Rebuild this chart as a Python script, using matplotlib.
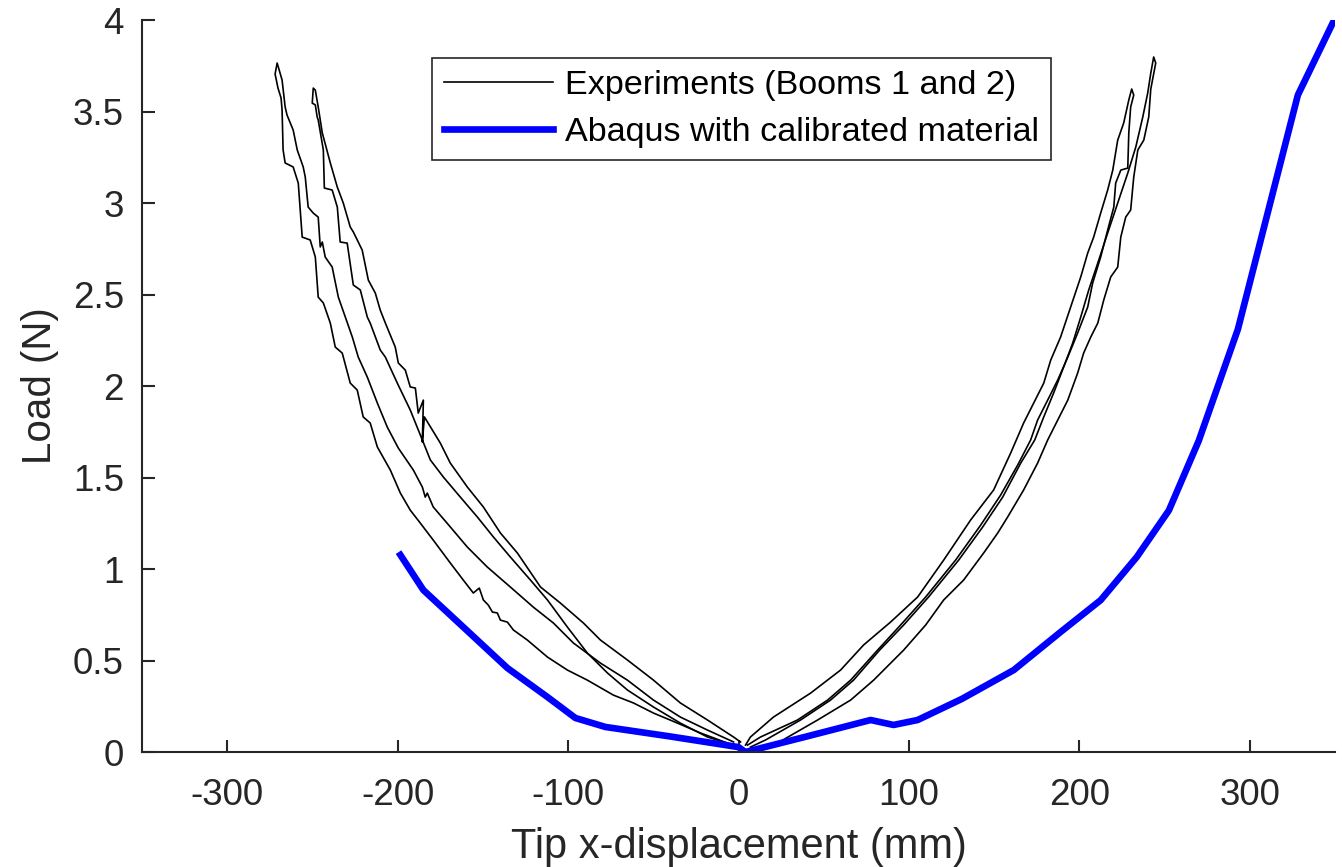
import matplotlib
matplotlib.use('Agg')
import matplotlib.pyplot as plt
from matplotlib.ticker import FuncFormatter

# experiments, left side, outer loop (boom 1)
left_a_x = [-1.2, -6.5, -22.3, -35.8, -49.9, -61.6, -73.4, -88.7, -100.4, -112.1, -123.9, -132.1,
            -135.6, -139.7, -141.5, -144.4, -146.8, -149.7, -152.1, -155.6, -161.5, -169.1, -179.1,
            -186.7, -192.6, -198.4, -204.3, -211.9, -216.1, -220.2, -223.7, -227.8, -232.5, -236.6,
            -239.5, -243.6, -246.6, -248.3, -251.3, -256.0, -258.3, -261.3, -266.0, -267.2, -267.8,
            -268.4, -270.2, -271.9, -270.7,
            -269.5, -267.8, -266.0, -264.9, -261.3, -258.9, -255.4, -254.2, -252.5, -249.5, -246.6,
            -245.4, -244.2, -242.5, -238.4, -234.8, -230.7, -226.6, -223.1, -217.8, -211.9, -206.1,
            -199.6, -190.8, -185.5, -183.8, -182.6, -179.1, -169.1, -159.1, -147.4, -133.9, -120.4,
            -108.6, -96.9, -81.0, -65.2, -49.9, -34.1, -18.2, -2.9]
left_a_y = [0.033, 0.049, 0.104, 0.158, 0.213, 0.268, 0.311, 0.393, 0.448, 0.519, 0.612, 0.667,
            0.710, 0.721, 0.760, 0.765, 0.803, 0.831, 0.896, 0.869, 0.940, 1.033, 1.158,
            1.251, 1.322, 1.415, 1.541, 1.667, 1.798, 1.831, 1.978, 2.016, 2.180, 2.213,
            2.344, 2.454, 2.486, 2.705, 2.798, 2.814, 3.109, 3.197, 3.219, 3.290, 3.508,
            3.574, 3.628, 3.705, 3.765,
            3.727, 3.672, 3.525, 3.481, 3.399, 3.290, 3.197, 3.142, 2.978, 2.945, 2.923,
            2.760, 2.787, 2.705, 2.650, 2.486, 2.377, 2.268, 2.158, 2.049, 1.907, 1.776,
            1.661, 1.541, 1.448, 1.393, 1.415, 1.339, 1.230, 1.120, 1.011, 0.902, 0.792,
            0.705, 0.596, 0.486, 0.393, 0.284, 0.191, 0.120, 0.055]

# experiments, left side, inner loop (boom 2)
left_b_x = [-0.6, -2.9, -18.2, -34.1, -49.9, -65.2, -76.9, -88.7, -100.4, -112.1, -122.1, -133.9,
            -143.8, -153.2, -163.2, -173.2, -180.8, -185.5, -192.6, -200.2, -207.2, -210.2, -216.1,
            -217.8, -221.9, -226.0, -229.6, -233.7, -235.4, -238.4, -243.0, -243.6, -246.6, -247.2,
            -248.3, -250.1, -249.5,
            -248.3, -246.6, -244.2, -239.5, -235.4, -231.9, -227.8, -226.0, -220.8, -217.2, -213.1,
            -210.2, -207.2, -201.4, -199.6, -195.5, -192.6, -189.6, -187.9, -184.9, -185.5, -184.3,
            -175.0, -169.1, -159.1, -149.7, -139.7, -129.7, -116.2, -104.5, -91.0, -81.0, -65.2,
            -49.9, -34.1, -18.2, -2.9, 1.2]
left_b_y = [0.022, 0.038, 0.082, 0.158, 0.246, 0.339, 0.432, 0.541, 0.683, 0.831, 0.940, 1.066,
            1.175, 1.284, 1.393, 1.503, 1.596, 1.705, 1.869, 2.016, 2.158, 2.197, 2.344,
            2.377, 2.525, 2.552, 2.781, 2.787, 2.978, 3.071, 3.082, 3.290, 3.454, 3.470,
            3.536, 3.546, 3.628,
            3.617, 3.525, 3.383, 3.219, 3.087, 3.000, 2.869, 2.842, 2.743, 2.579, 2.508,
            2.415, 2.344, 2.213, 2.126, 2.087, 1.995, 1.989, 1.852, 1.923, 1.694, 1.831,
            1.689, 1.579, 1.448, 1.339, 1.197, 1.087, 0.902, 0.814, 0.705, 0.612, 0.503,
            0.393, 0.268, 0.175, 0.082, 0.055]

# experiments, right side, inner loop
right_a_x = [4.1, 7.0, 20.5, 42.3, 59.9, 73.4, 89.2, 105.1, 120.4, 136.2, 149.7, 159.7, 167.3,
             173.2, 179.1, 183.2, 189.0, 194.9, 200.8, 204.9, 208.4, 212.5, 216.6, 219.6, 222.5,
             226.0, 229.0, 230.7,
             231.9, 230.1, 229.0, 228.4, 224.3, 221.3, 220.2, 216.6, 212.5, 207.8, 204.9, 199.0,
             193.2, 187.3, 181.4, 175.5, 171.4, 163.8, 153.8, 142.1, 127.4, 109.8, 95.1, 81.6,
             65.8, 52.3, 34.6, 12.9, 5.3]
right_a_y = [0.038, 0.082, 0.191, 0.322, 0.448, 0.585, 0.710, 0.847, 1.049, 1.268, 1.432, 1.634, 1.798,
             1.907, 2.016, 2.142, 2.268, 2.432, 2.596, 2.727, 2.814, 2.945, 3.071, 3.180, 3.344,
             3.437, 3.563, 3.623,
             3.590, 3.525, 3.383, 3.191, 3.180, 3.109, 2.978, 2.852, 2.705, 2.563, 2.432, 2.290,
             2.158, 2.033, 1.923, 1.814, 1.705, 1.568, 1.404, 1.240, 1.049, 0.847, 0.694, 0.557,
             0.393, 0.284, 0.175, 0.082, 0.038]

# experiments, right side, outer loop
right_b_x = [7.0, 15.9, 36.4, 54.0, 67.5, 82.8, 96.9, 111.5, 129.2, 143.3, 155.0, 165.6, 173.8,
             179.1, 184.9, 190.8, 196.1, 200.8, 205.5, 210.8, 216.6, 222.5, 228.4, 233.1, 237.2,
             240.1, 241.9, 243.6,
             244.8, 241.9, 240.7, 237.8, 234.3, 231.9, 230.1, 227.2, 224.3, 222.5, 218.4, 214.3,
             210.8, 206.7, 202.5, 199.0, 193.2, 187.3, 181.4, 175.5, 167.3, 157.9, 152.1, 143.8,
             132.1, 120.4, 109.8, 96.9, 79.3, 65.8, 46.4, 22.9, 10.0]
right_b_y = [0.027, 0.066, 0.175, 0.284, 0.393, 0.557, 0.694, 0.847, 1.049, 1.230, 1.393, 1.579, 1.705,
             1.831, 1.962, 2.104, 2.235, 2.377, 2.525, 2.672, 2.836, 3.000, 3.164, 3.306, 3.470,
             3.601, 3.710, 3.798,
             3.765, 3.623, 3.470, 3.344, 3.290, 3.142, 2.962, 2.923, 2.814, 2.650, 2.596, 2.470,
             2.344, 2.268, 2.180, 2.071, 1.923, 1.814, 1.705, 1.579, 1.432, 1.284, 1.197, 1.087,
             0.940, 0.831, 0.694, 0.557, 0.393, 0.284, 0.175, 0.049, 0.011]

# Abaqus model
abaqus_x = [-198.4, -184.9, -160.0, -135.6, -112.0, -95.7, -78.1, -40.0, 0.0, 4.0, 40.0, 77.5,
            91.0, 105.1, 131.0, 161.5, 189.0, 212.5, 233.7, 252.5, 270.0, 293.0, 328.2, 349.5]
abaqus_y = [1.077, 0.885, 0.670, 0.459, 0.300, 0.186, 0.137, 0.085, 0.027, 0.0, 0.085, 0.175,
            0.148, 0.175, 0.290, 0.448, 0.656, 0.830, 1.066, 1.320, 1.700, 2.310, 3.590, 4.0]

x_ticks = [-300, -200, -100, 0, 100, 200, 300]
y_ticks = [0, 0.5, 1, 1.5, 2, 2.5, 3, 3.5, 4]

plt.rcParams['font.family'] = ['Liberation Sans', 'DejaVu Sans']
plt.rcParams['axes.unicode_minus'] = False
dark = '#262626'

fig = plt.figure(figsize=(13.42, 8.67), dpi=100)
ax = fig.add_axes([0.1058, 0.1326, 0.889, 0.8443])

loops = [(left_a_x, left_a_y), (left_b_x, left_b_y), (right_a_x, right_a_y), (right_b_x, right_b_y)]
for i, (lx, ly) in enumerate(loops):
    ax.plot(lx, ly, color='black', lw=1.2,
            label='Experiments (Booms 1 and 2)' if i == 0 else None)
ax.plot(abaqus_x, abaqus_y, color='#0000ff', lw=4.8, label='Abaqus with calibrated material')

ax.set_xlim(-350, 350)
ax.set_ylim(0, 4)
ax.set_xticks(x_ticks)
ax.set_yticks(y_ticks)
ax.yaxis.set_major_formatter(FuncFormatter(lambda v, p: f'{v:g}'))
ax.spines[['top', 'right']].set_visible(False)
for s in ['left', 'bottom']:
    ax.spines[s].set_linewidth(1.5)
    ax.spines[s].set_color(dark)
ax.tick_params(direction='in', length=9, width=1.5, color=dark, labelcolor=dark,
               labelsize=26.5)
ax.tick_params(axis='x', pad=19)
ax.tick_params(axis='y', pad=13)

ax.set_xlabel('Tip x-displacement (mm)', fontsize=30, color=dark, labelpad=10)
ax.set_ylabel('Load (N)', fontsize=29, color=dark, labelpad=10)

leg = ax.legend(loc='upper left', bbox_to_anchor=(0.243, 0.948), borderaxespad=0,
                fontsize=24.6, fancybox=False, edgecolor=dark, framealpha=1,
                handlelength=3.2, handletextpad=0.35, labelspacing=0.48, borderpad=0.35)
leg.get_frame().set_linewidth(1.2)

fig.savefig('out.png', dpi=100, facecolor='white')
